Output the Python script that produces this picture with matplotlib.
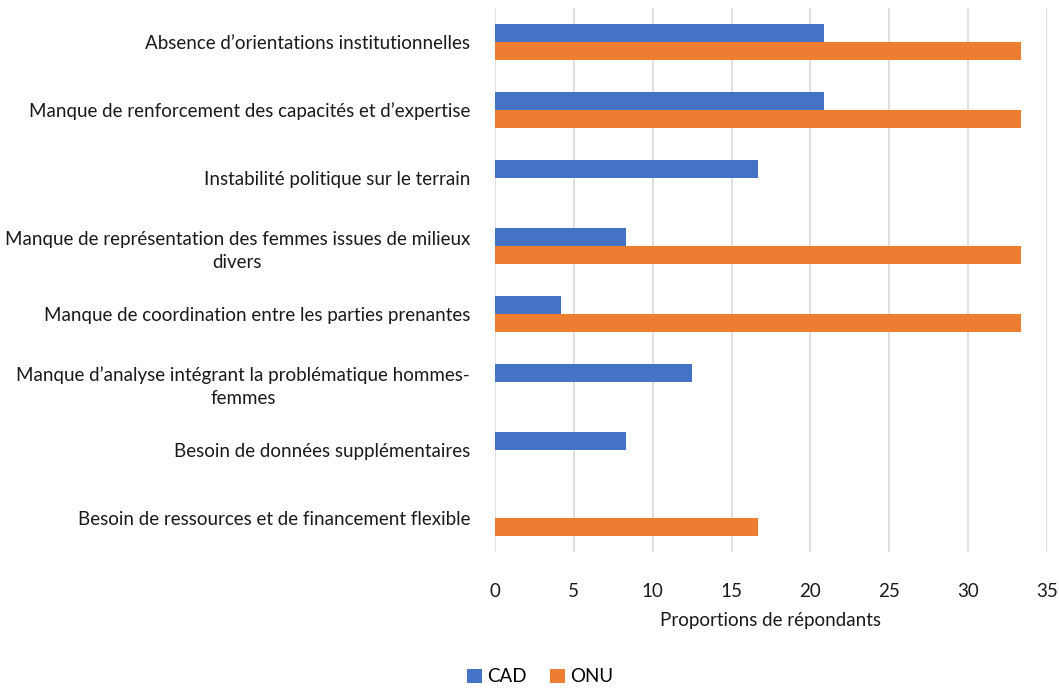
import matplotlib
matplotlib.use('Agg')
import matplotlib.pyplot as plt
import numpy as np

plt.rcParams['font.family'] = ['Lato', 'DejaVu Sans']

categories = [
    "Absence d\u2019orientations institutionnelles",
    "Manque de renforcement des capacit\u00e9s et d\u2019expertise",
    "Instabilit\u00e9 politique sur le terrain",
    "Manque de repr\u00e9sentation des femmes issues de milieux\ndivers",
    "Manque de coordination entre les parties prenantes",
    "Manque d\u2019analyse int\u00e9grant la probl\u00e9matique hommes-\nfemmes",
    "Besoin de donn\u00e9es suppl\u00e9mentaires",
    "Besoin de ressources et de financement flexible",
]
cad = [20.83, 20.83, 16.67, 8.33, 4.17, 12.5, 8.33, 0]
onu = [33.33, 33.33, 0, 33.33, 33.33, 0, 0, 16.67]
x_ticks = [0, 5, 10, 15, 20, 25, 30, 35]

fig = plt.figure(figsize=(10.59, 6.88), dpi=100)
ax = fig.add_axes([495 / 1059, 1 - 552 / 688, 552 / 1059, 544 / 688])

y = np.arange(len(categories))
h = 0.265
ax.barh(y - h / 2, cad, height=h, color='#4472C4', label='CAD', zorder=3)
ax.barh(y + h / 2, onu, height=h, color='#ED7D31', label='ONU', zorder=3)

ax.set_ylim(len(categories) - 0.5, -0.5)
ax.set_xlim(0, 35)
ax.set_xticks(x_ticks)
ax.set_yticks(y)
ax.set_yticklabels(categories, fontsize=13.5, color='#1a1a1a')
for t in ax.get_yticklabels():
    t.set_multialignment('center')
    t.set_linespacing(1.45)
ax.tick_params(axis='y', length=0, pad=18)
ax.tick_params(axis='x', length=0, pad=22, labelsize=13.5, labelcolor='#1a1a1a')
ax.grid(axis='x', color='#d9d9d9', linewidth=1.2, zorder=0)
for s in ax.spines.values():
    s.set_visible(False)
ax.set_xlabel('Proportions de r\u00e9pondants', fontsize=13.5, color='#1a1a1a', labelpad=9)

fig.legend(loc='center', bbox_to_anchor=(540 / 1059, 1 - 677 / 688), ncol=2, frameon=False,
           fontsize=13.5, handlelength=0.8, handleheight=0.8, handletextpad=0.3, columnspacing=1.2)

fig.savefig('out.png', dpi=100)
